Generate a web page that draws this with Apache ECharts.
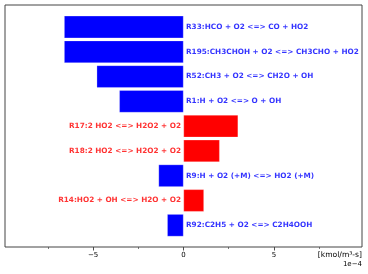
<!DOCTYPE html>
<html><head><meta charset="utf-8">
<script src="https://cdn.jsdelivr.net/npm/echarts@6/dist/echarts.min.js"></script>
<style>html,body{margin:0;padding:0;background:#fff}#c{width:368px;height:274px}</style>
</head><body><div id="c"></div>
<script>
// values in units of 1e-4 kmol/m^3-s
const reactions = [
  'R33:HCO + O2 <=> CO + HO2',
  'R195:CH3CHOH + O2 <=> CH3CHO + HO2',
  'R52:CH3 + O2 <=> CH2O + OH',
  'R1:H + O2 <=> O + OH',
  'R17:2 HO2 <=> H2O2 + O2',
  'R18:2 HO2 <=> H2O2 + O2',
  'R9:H + O2 (+M) <=> HO2 (+M)',
  'R14:HO2 + OH <=> H2O + O2',
  'R92:C2H5 + O2 <=> C2H4OOH'
];
const rates = [-6.6, -6.6, -4.8, -3.55, 3.02, 2.0, -1.38, 1.13, -0.9];
const majorTicks = [-5, 0, 5];
const minorTicks = [-7.5, -2.5, 2.5, 7.5];
const xMin = -9.87, xMax = 9.87;

const FONT = 'DejaVu Sans';
const colorOf = v => v < 0 ? '#0000ff' : '#ff0000';

const chart = echarts.init(document.getElementById('c'), null, {renderer: 'canvas'});
chart.setOption({
  animation: false,
  grid: [
    {left: 5, right: 6, top: 5, bottom: 27, show: true, borderColor: '#444', borderWidth: 1, backgroundColor: 'transparent', z: 10},
    {left: 5, right: 6, top: 14.6, bottom: 36.3}
  ],
  xAxis: [
    {gridIndex: 0, type: 'value', min: xMin, max: xMax,
     axisLine: {show: false}, splitLine: {show: false},
     axisTick: {show: true, length: 3.5, lineStyle: {color: '#222', width: 0.8}, customValues: majorTicks},
     axisLabel: {show: true, customValues: majorTicks, fontFamily: FONT, fontSize: 7, color: '#000', margin: 5,
       formatter: v => (v < 0 ? '\u2212' + Math.abs(v) : String(v))}},
    {gridIndex: 0, type: 'value', min: xMin, max: xMax, position: 'bottom',
     axisLine: {show: false}, splitLine: {show: false}, axisLabel: {show: false},
     axisTick: {show: true, length: 2, lineStyle: {color: '#222', width: 0.6}, customValues: minorTicks}},
    {gridIndex: 1, type: 'value', min: xMin, max: xMax, show: false}
  ],
  yAxis: [
    {gridIndex: 0, type: 'value', min: 0, max: 1, show: false},
    {gridIndex: 1, type: 'category', data: reactions, inverse: true, show: false}
  ],
  series: [
    {type: 'bar', xAxisIndex: 2, yAxisIndex: 1, barWidth: '90%',
     data: rates.map(v => ({value: v, itemStyle: {color: colorOf(v), borderColor: 'rgba(255,255,255,0.5)', borderWidth: 0.5}}))},
    {type: 'scatter', xAxisIndex: 2, yAxisIndex: 1, symbolSize: 0, z: 5,
     data: rates.map((v, i) => ({value: [0, reactions[i]],
       label: {show: true, formatter: reactions[i], position: v < 0 ? 'right' : 'left', distance: 2.5,
         color: colorOf(v), fontFamily: FONT, fontWeight: 'bold', fontSize: 7.3}}))}
  ],
  graphic: [
    {type: 'text', right: 6, top: 251, style: {text: '[kmol/m³-s]', font: '7.6px "DejaVu Sans"', fill: '#000'}},
    {type: 'text', right: 6, top: 261, style: {text: '1e\u22124', font: '7px "DejaVu Sans"', fill: '#000'}}
  ]
});
</script></body></html>
